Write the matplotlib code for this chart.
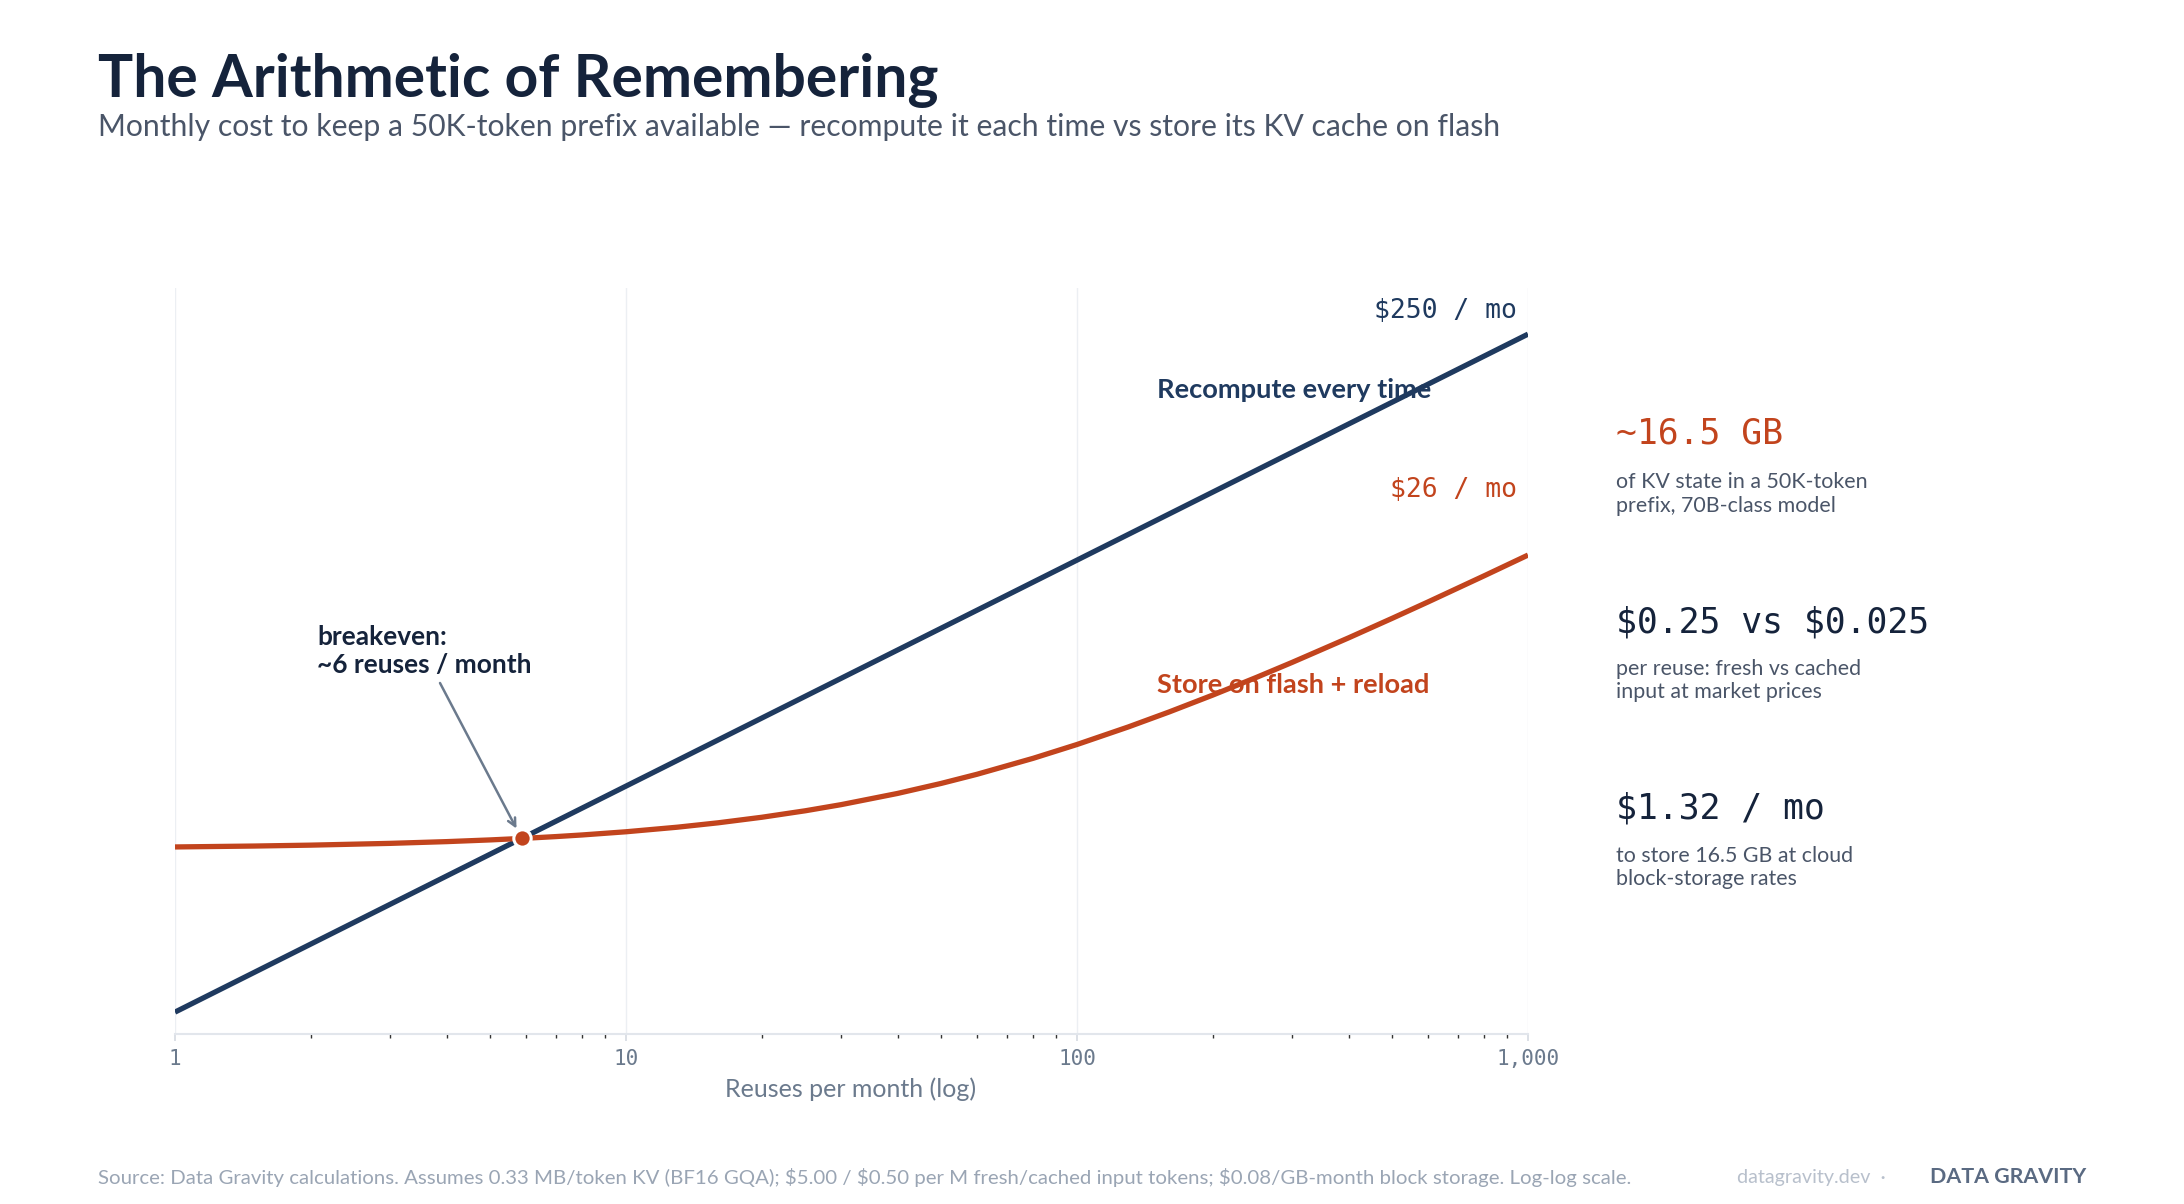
import matplotlib
matplotlib.use("Agg")
import matplotlib.pyplot as plt
from matplotlib.ticker import FixedLocator, FixedFormatter, LogLocator, NullFormatter

plt.rcParams["text.parse_math"] = False

# ---------------- data ----------------
reuses = [1, 1.5, 2, 3, 4, 5, 6, 7, 8, 10, 13, 16, 20, 25, 30, 40, 50, 60, 80,
          100, 130, 160, 200, 250, 300, 400, 500, 600, 800, 1000]
recompute_cost = [0.25, 0.375, 0.5, 0.75, 1.0, 1.25, 1.5, 1.75, 2.0, 2.5, 3.25, 4.0,
                  5.0, 6.25, 7.5, 10.0, 12.5, 15.0, 20.0, 25.0, 32.5, 40.0, 50.0,
                  62.5, 75.0, 100.0, 125.0, 150.0, 200.0, 250.0]
store_cost = [1.345, 1.3575, 1.37, 1.395, 1.42, 1.445, 1.47, 1.495, 1.52, 1.57,
              1.645, 1.72, 1.82, 1.945, 2.07, 2.32, 2.57, 2.82, 3.32, 3.82, 4.57,
              5.32, 6.32, 7.57, 8.82, 11.32, 13.82, 16.32, 21.32, 26.32]
breakeven_x = 5.87
breakeven_y = 1.467
x_ticks = [1, 10, 100, 1000]
x_tick_labels = ["1", "10", "100", "1,000"]

# ---------------- style ----------------
W, H = 2184, 1204
DPI = 100
NAVY = "#1f3a5f"
TITLE = "#15233b"
ORANGE = "#c2441d"
GREY = "#4a5568"
TICK = "#6b7a8d"
FOOT = "#9aa5b4"
SANS = ["Lato", "DejaVu Sans"]
MONO = ["DejaVu Sans Mono"]

def fx(px):
    return px / W

def fy(py):
    return 1 - py / H

fig = plt.figure(figsize=(W / DPI, H / DPI), dpi=DPI, facecolor="white")
ax = fig.add_axes([fx(175), fy(1034), (1528 - 175) / W, (1034 - 288) / H])

ax.plot(reuses, recompute_cost, color=NAVY, lw=3.8, solid_capstyle="butt", zorder=3)
ax.plot(reuses, store_cost, color=ORANGE, lw=3.8, solid_capstyle="butt", zorder=3)
ax.plot([breakeven_x], [breakeven_y], "o", ms=12.5, mfc=ORANGE, mec="white", mew=2.2, zorder=5)

ax.set_xscale("log")
ax.set_yscale("log")
ax.set_xlim(1, 1000)
ax.set_ylim(0.2, 400)

for s in ["left", "right", "top"]:
    ax.spines[s].set_visible(False)
ax.spines["bottom"].set_color("#e2e6ec")
ax.spines["bottom"].set_linewidth(1.5)
ax.set_yticks([])
ax.yaxis.set_minor_locator(FixedLocator([]))

ax.xaxis.set_major_locator(FixedLocator(x_ticks))
ax.xaxis.set_major_formatter(FixedFormatter(x_tick_labels))
ax.xaxis.set_minor_locator(LogLocator(base=10, subs=range(2, 10)))
ax.xaxis.set_minor_formatter(NullFormatter())
ax.tick_params(axis="x", which="major", length=5, width=1.2, color="#d5dae1",
               labelcolor=TICK, labelsize=15, pad=6)
ax.tick_params(axis="x", which="minor", length=3, width=1, color="#333333")
for lab in ax.get_xticklabels():
    lab.set_fontfamily(MONO)
ax.grid(True, which="major", axis="x", color="#eceff3", lw=1)
ax.set_axisbelow(True)

# line labels
fig.text(fx(1517), fy(318), "$250 / mo", family=MONO, fontsize=19, color=NAVY,
         ha="right", va="baseline")
fig.text(fx(1157), fy(398), "Recompute every time", family=SANS, fontsize=19.6,
         fontweight="bold", color=NAVY, ha="left", va="baseline", zorder=1)
fig.text(fx(1517), fy(497), "$26 / mo", family=MONO, fontsize=19, color=ORANGE,
         ha="right", va="baseline")
fig.text(fx(1157), fy(693), "Store on flash + reload", family=SANS, fontsize=19.6,
         fontweight="bold", color=ORANGE, ha="left", va="baseline", zorder=1)

# breakeven annotation
fig.text(fx(317), fy(645), "breakeven:", family=SANS, fontsize=18.9, fontweight="bold",
         color=TITLE, ha="left", va="baseline")
fig.text(fx(317), fy(673), "~6 reuses / month", family=SANS, fontsize=18.9,
         fontweight="bold", color=TITLE, ha="left", va="baseline")
ax.annotate("", xy=(breakeven_x, breakeven_y), xycoords="data",
            xytext=(fx(440), fy(683)), textcoords="figure fraction",
            arrowprops=dict(arrowstyle="->", color="#6b7a8d", lw=1.8,
                            shrinkA=0, shrinkB=8, mutation_scale=14), zorder=4)

# title & subtitle
fig.text(fx(98), fy(97), "The Arithmetic of Remembering", family=SANS, fontsize=42.3,
         fontweight="bold", color=TITLE, ha="left", va="baseline")
fig.text(fx(98), fy(136),
         "Monthly cost to keep a 50K-token prefix available \u2014 recompute it each time vs store its KV cache on flash",
         family=SANS, fontsize=21.7, color=GREY, ha="left", va="baseline")

# x label
fig.text(fx(851), fy(1097), "Reuses per month (log)", family=SANS, fontsize=18,
         color=TICK, ha="center", va="baseline")

# right panel
RX = 1616
DESC = 15.4
fig.text(fx(RX), fy(444), "~16.5 GB", family=MONO, fontsize=25, color=ORANGE,
         ha="left", va="baseline")
fig.text(fx(RX), fy(488), "of KV state in a 50K-token", family=SANS, fontsize=DESC,
         color=GREY, ha="left", va="baseline")
fig.text(fx(RX), fy(512), "prefix, 70B-class model", family=SANS, fontsize=DESC,
         color=GREY, ha="left", va="baseline")

fig.text(fx(RX), fy(632), "$0.25 vs $0.025", family=MONO, fontsize=25, color=TITLE,
         ha="left", va="baseline")
fig.text(fx(RX), fy(675), "per reuse: fresh vs cached", family=SANS, fontsize=DESC,
         color=GREY, ha="left", va="baseline")
fig.text(fx(RX), fy(698), "input at market prices", family=SANS, fontsize=DESC,
         color=GREY, ha="left", va="baseline")

fig.text(fx(RX), fy(819), "$1.32 / mo", family=MONO, fontsize=25, color=TITLE,
         ha="left", va="baseline")
fig.text(fx(RX), fy(862), "to store 16.5 GB at cloud", family=SANS, fontsize=DESC,
         color=GREY, ha="left", va="baseline")
fig.text(fx(RX), fy(885), "block-storage rates", family=SANS, fontsize=DESC,
         color=GREY, ha="left", va="baseline")

# footer
fig.text(fx(98), fy(1184),
         "Source: Data Gravity calculations. Assumes 0.33 MB/token KV (BF16 GQA); $5.00 / $0.50 per M fresh/cached input tokens; $0.08/GB-month block storage. Log-log scale.",
         family=SANS, fontsize=14.7, color=FOOT, ha="left", va="baseline")
fig.text(fx(1737), fy(1183), "datagravity.dev  \u00b7", family=SANS, fontsize=14.2,
         color="#b8c0cc", ha="left", va="baseline")
fig.text(fx(1930), fy(1183), "DATA GRAVITY", family=SANS, fontsize=15.4,
         fontweight="bold", color="#5a6a82", ha="left", va="baseline")

fig.savefig("out.png", dpi=DPI, facecolor="white")
